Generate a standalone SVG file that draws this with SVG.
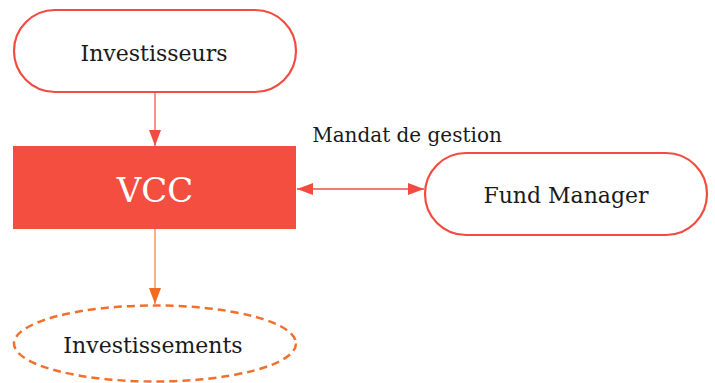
<svg xmlns="http://www.w3.org/2000/svg" width="715" height="383" viewBox="0 0 715 383">
<style>
text{font-family:"DejaVu Serif","Liberation Serif",serif;font-size:22px;fill:#1a1a1a;text-anchor:middle}
text.lbl{font-size:20px}
text.vcc{font-size:34px;fill:#fff}
.pill{fill:#fff;stroke:#f24c41;stroke-width:2.2}
.red{stroke:#f24c41;stroke-width:1.5;fill:none}
.redl{stroke:#f36f63;stroke-width:1.5;fill:none}
.orl{stroke:#f5995e;stroke-width:1.5;fill:none}
</style>
<defs>
<marker id="ar" markerWidth="16" markerHeight="12" refX="16" refY="6" orient="auto" markerUnits="userSpaceOnUse"><path d="M0,0L16,6L0,12Z" fill="#f24c41"/></marker>
<marker id="al" markerWidth="16" markerHeight="12" refX="0" refY="6" orient="auto" markerUnits="userSpaceOnUse"><path d="M16,0L0,6L16,12Z" fill="#f24c41"/></marker>
<marker id="ao" markerWidth="16" markerHeight="12" refX="16" refY="6" orient="auto" markerUnits="userSpaceOnUse"><path d="M0,0L16,6L0,12Z" fill="#f26b21"/></marker>
</defs>
<g id="connectors">
<line class="redl" x1="155" y1="92" x2="155" y2="146" marker-end="url(#ar)"/>
<line class="red" x1="297" y1="189" x2="424" y2="189" marker-start="url(#al)" marker-end="url(#ar)"/>
<line class="orl" x1="155" y1="229" x2="155" y2="304" marker-end="url(#ao)"/>
<text class="lbl" x="407" y="142">Mandat de gestion</text>
</g>
<g id="investisseurs">
<rect class="pill" x="14" y="10" width="282" height="82" rx="41"/>
<text x="154" y="61">Investisseurs</text>
</g>
<g id="vcc">
<rect x="13" y="146" width="283" height="83" fill="#f44e41"/>
<text class="vcc" x="155" y="202">VCC</text>
</g>
<g id="fund-manager">
<rect class="pill" x="425" y="153" width="282" height="82" rx="41"/>
<text x="566" y="203">Fund Manager</text>
</g>
<g id="investissements">
<ellipse cx="155" cy="343.5" rx="141" ry="38" fill="#fff" stroke="#f3702b" stroke-width="2.5" stroke-dasharray="8 5"/>
<text x="153" y="353">Investissements</text>
</g>
</svg>
